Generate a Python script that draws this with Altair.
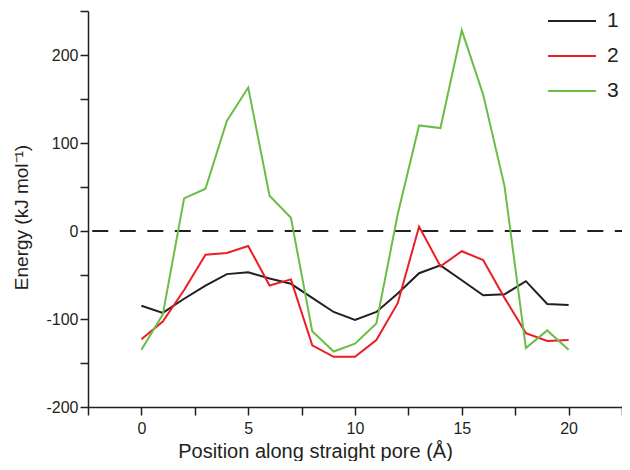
import altair as alt
import pandas as pd

positions = list(range(21))
series_names = ["1", "2", "3"]
energy_1 = [-85, -93, -77, -62, -49, -47, -54, -60, -76, -92, -101, -92, -71, -48, -39, -56, -73, -72, -57, -83, -84]
energy_2 = [-123, -103, -67, -27, -25, -17, -62, -55, -130, -143, -143, -124, -82, 5, -40, -23, -33, -76, -116, -125, -124]
energy_3 = [-135, -95, 37, 48, 125, 163, 40, 15, -114, -137, -128, -105, 19, 120, 117, 228, 155, 51, -133, -113, -135]
colors = ["#231f20", "#ed1c24", "#6abd45"]

x_ticks = [-2.5 + 2.5 * i for i in range(11)]
y_ticks = [-200 + 50 * i for i in range(10)]

rows = []
for name, vals in zip(series_names, [energy_1, energy_2, energy_3]):
    for p, v in zip(positions, vals):
        rows.append({"pos": p, "energy": v, "series": name})
df = pd.DataFrame(rows)

FONT = "Liberation Sans"

x_enc = alt.X(
    "pos:Q",
    scale=alt.Scale(domain=[-2.5, 22.5], nice=False, zero=False),
    axis=alt.Axis(
        title="Position along straight pore (Å)",
        values=x_ticks,
        labelExpr="datum.value % 5 == 0 ? '' + datum.value : ''",
        grid=False,
        tickSize=8,
        labelPadding=5,
        titleFontSize=20,
        titleX=227,
        titleY=34,
    ),
)
y_enc = alt.Y(
    "energy:Q",
    scale=alt.Scale(domain=[-200, 250], nice=False, zero=False),
    axis=alt.Axis(
        title="Energy (kJ mol⁻¹)",
        values=y_ticks,
        labelExpr="datum.value % 100 == 0 ? '' + datum.value : ''",
        grid=False,
        tickSize=8,
        labelPadding=2,
        titleFontSize=19,
        titleX=-57,
        titleY=206,
    ),
)

lines = alt.Chart(df).mark_line(strokeWidth=2).encode(
    x=x_enc,
    y=y_enc,
    color=alt.Color(
        "series:N",
        scale=alt.Scale(domain=series_names, range=colors),
        legend=alt.Legend(
            title=None,
            orient="none",
            legendX=459,
            legendY=-15,
            symbolType="stroke",
            symbolSize=2304,
            symbolStrokeWidth=2,
            labelFontSize=21,
            labelFont=FONT,
            labelColor="#231f20",
            labelOffset=10,
            rowPadding=-17,
            padding=0,
        ),
    ),
    detail="series:N",
)

zero_df = pd.DataFrame({"energy": [0]})
zero_line = alt.Chart(zero_df).mark_rule(
    color="#231f20", strokeWidth=2, strokeDash=[16, 11.5], strokeDashOffset=8.8
).encode(y=alt.Y("energy:Q"))

chart = (
    alt.layer(zero_line, lines)
    .properties(
        width=534,
        height=396,
        autosize=alt.AutoSizeParams(type="none"),
        padding={"left": 80, "top": 3, "right": 0, "bottom": 54},
    )
    .configure_view(stroke=None)
    .configure_axis(
        domainColor="#231f20",
        domainWidth=1.5,
        tickColor="#231f20",
        tickWidth=1.5,
        labelFont=FONT,
        labelFontSize=16,
        labelColor="#231f20",
        titleFont=FONT,
        titleFontWeight="normal",
        titleColor="#231f20",
    )
)

chart.save("out.html", embed_options={"renderer": "svg", "actions": False})
